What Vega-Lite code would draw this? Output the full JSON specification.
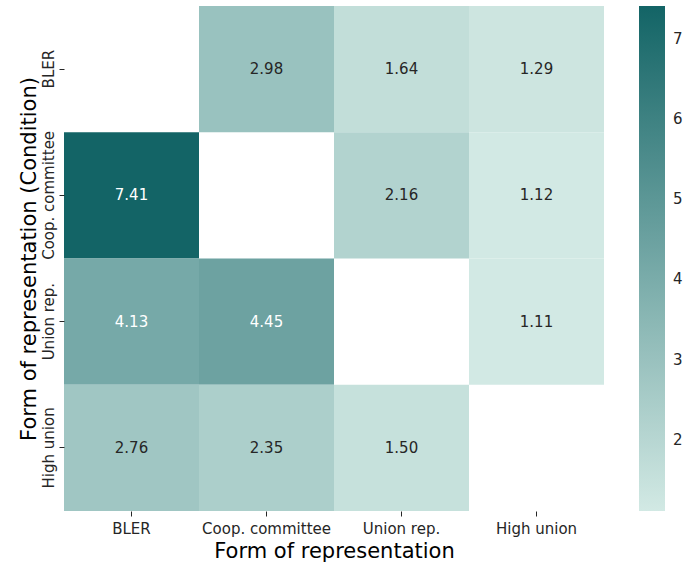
{
  "$schema": "https://vega.github.io/schema/vega-lite/v6.json",
  "autosize": "none",
  "width": 540,
  "height": 505,
  "padding": {"left": 64, "top": 6, "right": 80, "bottom": 54},
  "background": "white",
  "config": {
    "view": {"stroke": null},
    "font": "DejaVu Sans",
    "axis": {"labelFont": "DejaVu Sans", "titleFont": "DejaVu Sans", "labelColor": "#262626", "titleColor": "#000000", "tickColor": "#262626", "titleFontWeight": "normal"},
    "legend": {"labelFont": "DejaVu Sans"}
  },
  "data": {
    "values": [
      {"row": "BLER", "col": "Coop. committee", "value": 2.98},
      {"row": "BLER", "col": "Union rep.", "value": 1.64},
      {"row": "BLER", "col": "High union", "value": 1.29},
      {"row": "Coop. committee", "col": "BLER", "value": 7.41},
      {"row": "Coop. committee", "col": "Union rep.", "value": 2.16},
      {"row": "Coop. committee", "col": "High union", "value": 1.12},
      {"row": "Union rep.", "col": "BLER", "value": 4.13},
      {"row": "Union rep.", "col": "Coop. committee", "value": 4.45},
      {"row": "Union rep.", "col": "High union", "value": 1.11},
      {"row": "High union", "col": "BLER", "value": 2.76},
      {"row": "High union", "col": "Coop. committee", "value": 2.35},
      {"row": "High union", "col": "Union rep.", "value": 1.50}
    ]
  },
  "encoding": {
    "x": {
      "field": "col", "type": "nominal",
      "sort": ["BLER", "Coop. committee", "Union rep.", "High union"],
      "scale": {"domain": ["BLER", "Coop. committee", "Union rep.", "High union"], "paddingInner": 0, "paddingOuter": 0},
      "title": "Form of representation",
      "axis": {"labelAngle": 0, "labelFontSize": 15, "titleFontSize": 21, "domain": false, "grid": false, "tickSize": 5, "labelPadding": 5, "titlePadding": 4}
    },
    "y": {
      "field": "row", "type": "nominal",
      "sort": ["BLER", "Coop. committee", "Union rep.", "High union"],
      "scale": {"domain": ["BLER", "Coop. committee", "Union rep.", "High union"], "paddingInner": 0, "paddingOuter": 0},
      "title": "Form of representation (Condition)",
      "axis": {"labelAngle": 270, "labelAlign": "center", "labelBaseline": "bottom", "labelFontSize": 15, "titleFontSize": 21, "domain": false, "grid": false, "tickSize": 5, "labelPadding": 3, "titlePadding": 2}
    }
  },
  "layer": [
    {
      "mark": {"type": "rect"},
      "encoding": {
        "color": {
          "field": "value", "type": "quantitative",
          "scale": {"domain": [1.11, 7.41], "range": ["#d2e9e4", "#136466"], "interpolate": "rgb"},
          "legend": {
            "title": null,
            "orient": "none",
            "legendX": 575,
            "legendY": 0,
            "direction": "vertical",
            "gradientLength": 505,
            "gradientThickness": 26,
            "gradientStrokeWidth": 0,
            "values": [2, 3, 4, 5, 6, 7],
            "format": "d",
            "labelFontSize": 15,
            "labelColor": "#262626",
            "labelOffset": 8
          }
        }
      }
    },
    {
      "mark": {"type": "text", "fontSize": 15, "font": "DejaVu Sans"},
      "encoding": {
        "text": {"field": "value", "type": "quantitative", "format": ".2f"},
        "color": {"condition": {"test": "datum.value > 4", "value": "#ffffff"}, "value": "#262626"}
      }
    }
  ]
}
